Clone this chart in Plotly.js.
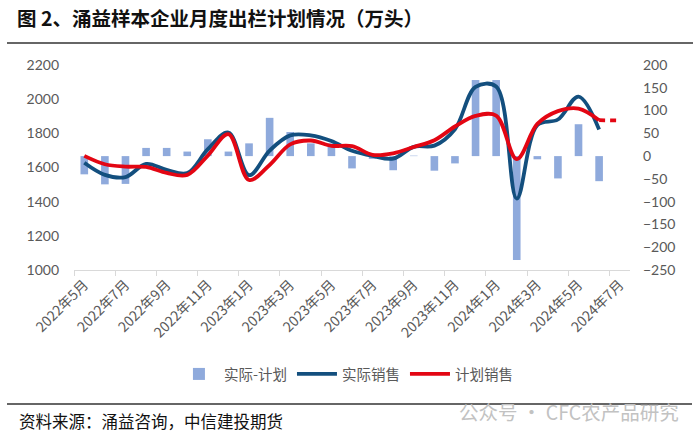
<!DOCTYPE html>
<html>
<head>
<meta charset="utf-8">
<script src="https://cdn.plot.ly/plotly-3.0.1.min.js"></script>
<style>
html,body{margin:0;padding:0;background:#fff;}
#chart{width:700px;height:441px;}
</style>
</head>
<body>
<div id="chart"></div>
<script>
// Categories (months)
var months = ["2022年5月","2022年6月","2022年7月","2022年8月","2022年9月","2022年10月","2022年11月","2022年12月",
  "2023年1月","2023年2月","2023年3月","2023年4月","2023年5月","2023年6月","2023年7月","2023年8月",
  "2023年9月","2023年10月","2023年11月","2023年12月","2024年1月","2024年2月","2024年3月","2024年4月",
  "2024年5月","2024年6月","2024年7月"];

// 实际-计划 (right axis)
var diffValues = [-40, -62, -61, 18, 18, 10, 37, 10, 28, 84, 53, 28, 28, -27, -6, -31, 1, -32, -16, 167, 167, -228, -7, -49, 70, -55, null];

// 实际销售 (left axis)
var actualSales = [1628, 1557, 1544, 1621, 1586, 1567, 1707, 1805, 1555, 1699, 1788, 1788, 1755, 1698, 1668, 1652, 1721, 1728, 1824, 2072, 2074, 1418, 1848, 1881, 2015, 1822, null];

// 计划销售 (left axis); last value is a plan (drawn dashed)
var planSales = [1668, 1619, 1605, 1603, 1568, 1557, 1670, 1795, 1527, 1615, 1735, 1758, 1727, 1725, 1674, 1683, 1720, 1760, 1840, 1902, 1904, 1649, 1855, 1930, 1945, 1877, 1875];

var leftTicks = [1000, 1200, 1400, 1600, 1800, 2000, 2200];
var rightTicks = [-250, -200, -150, -100, -50, 0, 50, 100, 150, 200];

var nSolid = planSales.length - 1;
var planSolid = planSales.map(function (v, i) { return i < nSolid ? v : null; });
var planDashed = planSales.map(function (v, i) { return i >= nSolid - 1 ? v : null; });

var cjk = '"Noto Sans CJK SC", "Noto Sans", sans-serif';
var tickGrey = '#595959';

var traces = [
  {
    type: 'bar', name: '实际-计划', x: months, y: diffValues,
    xaxis: 'x', yaxis: 'y', width: 0.37,
    marker: {color: '#8FAADC'}
  },
  {
    type: 'scatter', mode: 'lines', name: '实际销售', x: months, y: actualSales,
    xaxis: 'x', yaxis: 'y2',
    line: {color: '#134F7E', width: 3.8, shape: 'spline', smoothing: 1}
  },
  {
    type: 'scatter', mode: 'lines', name: '计划销售', x: months, y: planSolid,
    xaxis: 'x', yaxis: 'y2',
    line: {color: '#E30613', width: 3.8, shape: 'spline', smoothing: 1}
  },
  {
    type: 'scatter', mode: 'lines', name: '计划销售', x: months, y: planDashed,
    xaxis: 'x', yaxis: 'y2', showlegend: false,
    line: {color: '#E30613', width: 3.8, dash: '6px,5px', shape: 'linear'}
  }
];

// pixel helpers -> paper coords (plot area 74..630 x, 65..270 y)
function px(x) { return (x - 74) / 556; }
function py(y) { return (270 - y) / 205; }

var layout = {
  width: 700, height: 441, autosize: false,
  margin: {l: 74, r: 70, t: 65, b: 171, pad: 0},
  paper_bgcolor: '#ffffff', plot_bgcolor: '#ffffff',
  showlegend: true,
  bargap: 0.6,
  title: {
    text: '<b>图 2、涌益样本企业月度出栏计划情况（万头）</b>',
    font: {family: cjk, size: 19.5, color: '#111111'},
    xref: 'container', yref: 'container',
    x: 17 / 700, xanchor: 'left', y: 1 - 19 / 441, yanchor: 'middle'
  },
  xaxis: {
    type: 'category', range: [-0.5, 26.5],
    tickmode: 'linear', tick0: 0, dtick: 2,
    tickson: 'boundaries', ticks: 'outside', ticklen: 5, tickcolor: '#D9D9D9', tickwidth: 1,
    showline: true, linecolor: '#D9D9D9', linewidth: 1,
    showgrid: false, zeroline: false,
    tickangle: -45,
    tickfont: {family: cjk, size: 14, color: tickGrey}
  },
  yaxis: {
    side: 'right', range: [-250, 200], tickvals: rightTicks,
    showgrid: false, zeroline: false, showline: false, ticks: '',
    ticklabelstandoff: 12,
    tickfont: {family: 'Lato, "Liberation Sans", sans-serif', size: 14, color: tickGrey}
  },
  yaxis2: {
    overlaying: 'y', side: 'left', anchor: 'x', range: [1000, 2200], tickvals: leftTicks,
    showgrid: false, zeroline: false, showline: false, ticks: '',
    ticklabelstandoff: 14,
    tickfont: {family: 'Lato, "Liberation Sans", sans-serif', size: 14, color: tickGrey}
  },
  legend: {
    orientation: 'h', x: 0.49, xanchor: 'center', y: py(374), yanchor: 'middle',
    font: {family: cjk, size: 14.5, color: tickGrey},
    itemwidth: 40, tracegroupgap: 0, bgcolor: 'rgba(0,0,0,0)'
  },
  shapes: [
    {type: 'line', xref: 'paper', yref: 'paper', x0: px(7), x1: px(693), y0: py(43), y1: py(43),
     line: {color: '#333333', width: 1.5}},
    {type: 'line', xref: 'paper', yref: 'paper', x0: px(7), x1: px(692), y0: py(404), y1: py(404),
     line: {color: '#333333', width: 1.5}}
  ],
  annotations: [
    {xref: 'paper', yref: 'paper', x: px(17), y: py(421), xanchor: 'left', yanchor: 'middle',
     text: '资料来源：涌益咨询，中信建投期货', showarrow: false,
     font: {family: cjk, size: 16.5, color: '#111111'}},
    {xref: 'paper', yref: 'paper', x: px(681), y: py(411), xanchor: 'right', yanchor: 'middle',
     text: '公众号 · CFC农产品研究', showarrow: false,
     font: {family: cjk, size: 19.5, color: '#C2C2C2'}}
  ]
};

Plotly.newPlot('chart', traces, layout, {displayModeBar: false, staticPlot: true});
</script>
</body>
</html>
